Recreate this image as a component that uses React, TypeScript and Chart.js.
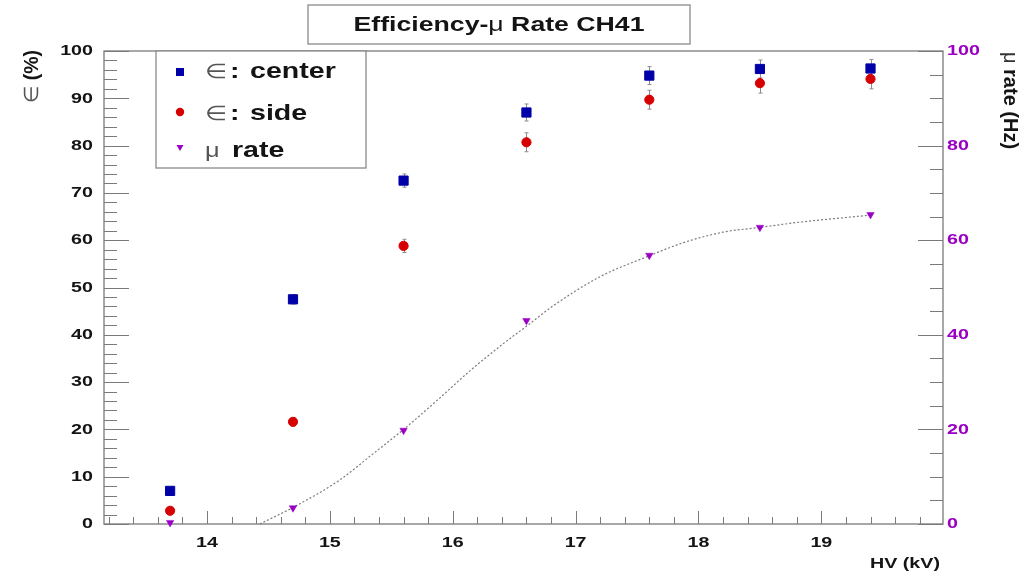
import { useEffect, useRef } from "react";
import { Chart, registerables } from "chart.js";

Chart.register(...registerables);

// ---------- data ----------
const hv = [13.7, 14.7, 15.6, 16.6, 17.6, 18.5, 19.4];
const effCenter = [7.0, 47.5, 72.6, 87.0, 94.8, 96.2, 96.3];
const effCenterErr = [0.6, 1.0, 1.4, 1.8, 1.9, 1.9, 1.9];
const effSide = [2.8, 21.6, 58.8, 80.7, 89.7, 93.2, 94.1];
const effSideErr = [0.5, 0.9, 1.4, 2.0, 2.0, 2.1, 2.1];
const muRate = [0.3, 3.4, 19.8, 43.0, 56.8, 62.7, 65.4];
const fitHv = [14.43, 14.7, 15.08, 15.34, 15.6, 15.88, 16.15, 16.43, 16.6, 16.8, 17.2, 17.6, 17.88, 18.2, 18.5, 18.82, 19.2, 19.4];
const fitRate = [0, 3.5, 9.3, 14.6, 20.0, 26.3, 32.6, 38.5, 41.8, 45.8, 52.3, 56.7, 59.5, 61.7, 62.7, 63.8, 64.8, 65.3];
const hvTicks = [14, 15, 16, 17, 18, 19];
const effTicks = [0, 10, 20, 30, 40, 50, 60, 70, 80, 90, 100];
const rateTicks = [0, 20, 40, 60, 80, 100];

const titleText = ["Efficiency-", "\u03bc", " Rate CH41"];
const xTitle = "HV (kV)";
const yTitle = ["\u2208", " (%)"];
const y2Title = ["\u03bc", " rate (Hz)"];
const legendLabels = [
  ["\u2208", ":", "center"],
  ["\u2208", ":", "side"],
  ["\u03bc", "", "rate"],
];

// ---------- style ----------
const SX = 1.27;
const FAM = "'Liberation Sans', Arial, sans-serif";
const BLUE = "#0000a8";
const RED = "#d60000";
const PURPLE = "#9a00c4";
const AXIS = "#7a7a7a";
const TXT = "#141414";

type Seg = { t: string; bold?: boolean; color?: string };

function font(size: number, bold: boolean) {
  return `${bold ? "bold " : ""}${size}px ${FAM}`;
}

function drawSegs(
  ctx: CanvasRenderingContext2D,
  segs: Seg[],
  size: number,
  x: number,
  y: number,
  align: "left" | "center" | "right",
  rot = 0,
  baseline: CanvasTextBaseline = "middle",
  color = TXT,
  sx = SX
) {
  ctx.save();
  ctx.translate(x, y);
  ctx.scale(sx, 1);
  if (rot) ctx.rotate(rot);
  ctx.textBaseline = baseline;
  ctx.textAlign = "left";
  const widths = segs.map((s) => {
    ctx.font = font(size, s.bold !== false);
    return ctx.measureText(s.t).width;
  });
  const total = widths.reduce((a, b) => a + b, 0);
  let cx = align === "left" ? 0 : align === "center" ? -total / 2 : -total;
  segs.forEach((s, i) => {
    ctx.font = font(size, s.bold !== false);
    ctx.fillStyle = s.color || color;
    ctx.fillText(s.t, cx, 0);
    cx += widths[i];
  });
  ctx.restore();
}

const decor = {
  id: "decor",
  beforeDatasetsDraw(chart: any) {
    const ctx: CanvasRenderingContext2D = chart.ctx;
    const { left, right, top, bottom } = chart.chartArea;
    const x = chart.scales.x;
    const y = chart.scales.y;
    const y2 = chart.scales.y2;

    // frame
    ctx.save();
    ctx.strokeStyle = AXIS;
    ctx.lineWidth = 1.3;
    ctx.strokeRect(left, top, right - left, bottom - top);

    // ticks
    ctx.lineWidth = 1;
    ctx.beginPath();
    for (let v = 0; v <= 100.001; v += 2) {
      const p = Math.round(y.getPixelForValue(v)) + 0.5;
      const len = Math.abs(v % 10) < 0.01 ? 25 : 13;
      ctx.moveTo(left, p);
      ctx.lineTo(left + len, p);
    }
    for (let v = 0; v <= 100.001; v += 5) {
      const p = Math.round(y2.getPixelForValue(v)) + 0.5;
      const len = Math.abs(v % 20) < 0.01 ? 25 : 13;
      ctx.moveTo(right, p);
      ctx.lineTo(right - len, p);
    }
    for (let i = 66; i <= 99; i++) {
      const v = i / 5;
      if (v < x.min || v > x.max) continue;
      const p = Math.round(x.getPixelForValue(v)) + 0.5;
      const len = i % 5 === 0 ? 13 : 7;
      ctx.moveTo(p, bottom);
      ctx.lineTo(p, bottom - len);
    }
    ctx.stroke();

    // error bars
    ctx.strokeStyle = "#8c8c8c";
    ctx.lineWidth = 1;
    const eb = (vals: number[], errs: number[]) => {
      hv.forEach((h, i) => {
        const px = Math.round(x.getPixelForValue(h)) + 0.5;
        const p1 = y.getPixelForValue(vals[i] + errs[i]);
        const p2 = y.getPixelForValue(vals[i] - errs[i]);
        ctx.beginPath();
        ctx.moveTo(px, p1);
        ctx.lineTo(px, p2);
        ctx.moveTo(px - 2, p1);
        ctx.lineTo(px + 2, p1);
        ctx.moveTo(px - 2, p2);
        ctx.lineTo(px + 2, p2);
        ctx.stroke();
      });
    };
    eb(effCenter, effCenterErr);
    eb(effSide, effSideErr);
    ctx.restore();

    // tick labels
    x.ticks.forEach((t: any) => {
      drawSegs(ctx, [{ t: String(t.value) }], 15.5, x.getPixelForValue(t.value), 543, "center");
    });
    y.ticks.forEach((t: any) => {
      drawSegs(ctx, [{ t: String(t.value) }], 15.5, 93, y.getPixelForValue(t.value), "right");
    });
    y2.ticks.forEach((t: any) => {
      drawSegs(ctx, [{ t: String(t.value), color: PURPLE }], 15.5, 947, y2.getPixelForValue(t.value), "left");
    });

    // axis titles
    drawSegs(ctx, [{ t: xTitle }], 15.5, 940, 564, "right");
    drawSegs(
      ctx,
      [
        { t: yTitle[0], bold: false, color: "#555" },
        { t: yTitle[1] },
      ],
      19.5,
      33,
      50,
      "right",
      -Math.PI / 2,
      "middle",
      TXT,
      1
    );
    drawSegs(
      ctx,
      [
        { t: y2Title[0], bold: false, color: "#333" },
        { t: y2Title[1] },
      ],
      20,
      1010,
      52,
      "left",
      Math.PI / 2,
      "middle",
      TXT,
      1
    );
  },
  afterDraw(chart: any) {
    const ctx: CanvasRenderingContext2D = chart.ctx;
    // title box
    ctx.save();
    ctx.fillStyle = "#fff";
    ctx.strokeStyle = "#9a9a9a";
    ctx.lineWidth = 1.5;
    ctx.fillRect(308, 5, 382, 39);
    ctx.strokeRect(308, 5, 382, 39);
    ctx.restore();
    drawSegs(
      ctx,
      [{ t: titleText[0] }, { t: titleText[1], bold: false }, { t: titleText[2] }],
      21,
      499,
      25,
      "center"
    );

    // legend box
    ctx.save();
    ctx.fillStyle = "#fff";
    ctx.strokeStyle = "#8a8a8a";
    ctx.lineWidth = 1.3;
    ctx.fillRect(156, 51, 210, 117);
    ctx.strokeRect(156, 51, 210, 117);

    // markers
    ctx.fillStyle = BLUE;
    ctx.fillRect(176, 68, 8, 8);
    ctx.fillStyle = RED;
    ctx.beginPath();
    ctx.arc(180, 112, 4.2, 0, Math.PI * 2);
    ctx.fill();
    ctx.fillStyle = PURPLE;
    ctx.beginPath();
    ctx.moveTo(176.5, 145);
    ctx.lineTo(183.5, 145);
    ctx.lineTo(180, 151);
    ctx.closePath();
    ctx.fill();
    ctx.restore();

    const rows = [78, 120, 157];
    legendLabels.forEach((lab, i) => {
      drawSegs(ctx, [{ t: lab[0], bold: false, color: "#555" }], 20, 205, rows[i], "left", 0, "alphabetic");
      if (lab[1]) drawSegs(ctx, [{ t: lab[1] }], 22.5, 230, rows[i], "left", 0, "alphabetic");
      drawSegs(ctx, [{ t: lab[2] }], 22.5, i === 2 ? 232 : 250, rows[i], "left", 0, "alphabetic");
    });
  },
};

export default function App() {
  const ref = useRef<HTMLCanvasElement | null>(null);

  useEffect(() => {
    if (!ref.current) return;
    const hidden = { display: false };
    const chart = new Chart(ref.current, {
      type: "scatter",
      data: {
        datasets: [
          {
            label: "center",
            data: hv.map((h, i) => ({ x: h, y: effCenter[i] })),
            yAxisID: "y",
            pointStyle: "rect",
            pointRadius: 6.5,
            pointBorderWidth: 1,
            backgroundColor: BLUE,
            borderColor: BLUE,
            clip: false,
          },
          {
            label: "side",
            data: hv.map((h, i) => ({ x: h, y: effSide[i] })),
            yAxisID: "y",
            pointStyle: "circle",
            pointRadius: 4.6,
            pointBorderWidth: 1,
            backgroundColor: RED,
            borderColor: RED,
            clip: false,
          },
          {
            label: "rate",
            data: hv.map((h, i) => ({ x: h, y: muRate[i] })),
            yAxisID: "y2",
            pointStyle: "triangle",
            rotation: 180,
            pointRadius: 4.3,
            pointBorderWidth: 0.5,
            backgroundColor: PURPLE,
            borderColor: PURPLE,
            clip: false,
          },
          {
            label: "fit",
            data: fitHv.map((h, i) => ({ x: h, y: fitRate[i] })),
            yAxisID: "y2",
            showLine: true,
            pointRadius: 0,
            borderColor: "#7c7c7c",
            borderWidth: 1.2,
            borderDash: [2, 2],
            cubicInterpolationMode: "monotone",
            clip: false,
          },
        ],
      } as any,
      options: {
        responsive: false,
        animation: false,
        events: [],
        layout: { padding: { top: 51, left: 0, right: 0, bottom: 0 } },
        plugins: {
          legend: hidden,
          title: hidden,
          tooltip: { enabled: false },
        },
        scales: {
          x: {
            type: "linear",
            min: 13.162,
            max: 19.99,
            grid: { display: false, drawTicks: false },
            border: hidden,
            ticks: { display: false },
            afterBuildTicks: (s: any) => {
              s.ticks = hvTicks.map((v) => ({ value: v }));
            },
            afterFit: (s: any) => {
              s.height = 52;
            },
          },
          y: {
            type: "linear",
            position: "left",
            min: 0,
            max: 100,
            grid: { display: false, drawTicks: false },
            border: hidden,
            ticks: { display: false },
            afterBuildTicks: (s: any) => {
              s.ticks = effTicks.map((v) => ({ value: v }));
            },
            afterFit: (s: any) => {
              s.width = 104;
            },
          },
          y2: {
            type: "linear",
            position: "right",
            min: 0,
            max: 100,
            grid: { display: false, drawTicks: false },
            border: hidden,
            ticks: { display: false },
            afterBuildTicks: (s: any) => {
              s.ticks = rateTicks.map((v) => ({ value: v }));
            },
            afterFit: (s: any) => {
              s.width = 80;
            },
          },
        },
      } as any,
      plugins: [decor],
    });
    return () => chart.destroy();
  }, []);

  return (
    <div style={{ position: "fixed", left: 0, top: 0, width: 1023, height: 576, background: "#fff" }}>
      <canvas ref={ref} width={1023} height={576} style={{ width: 1023, height: 576 }} />
    </div>
  );
}
